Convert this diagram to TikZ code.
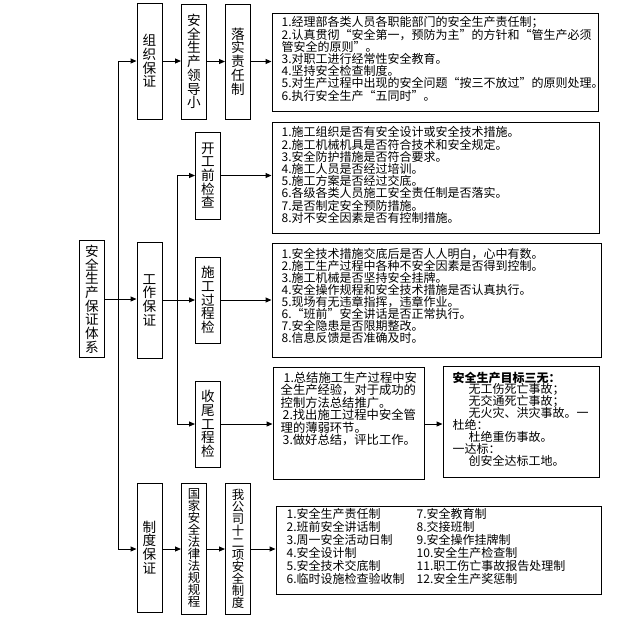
\documentclass[tikz,border=0pt]{standalone}
\usepackage{fontspec}
\setmainfont{Noto Sans CJK SC}
\usetikzlibrary{arrows.meta,positioning,calc}

\newcommand\tightlines{\lineskiplimit=-20pt\relax\lineskip=0pt\relax}
\tikzset{
  vbox/.style={draw, line width=1pt, inner sep=0pt, minimum width=25pt, align=center, font=\fontsize{13.6}{13.7}\selectfont\tightlines},
  vboxs/.style={vbox, font=\fontsize{12.4}{12}\selectfont\tightlines},
  tbox/.style={draw, line width=1pt, inner sep=0pt},
  txt/.style={inner sep=0pt, anchor=north west, align=left, font=\fontsize{12}{12.2}\selectfont\tightlines},
  arr/.style={line width=1pt, -{Triangle[length=6pt,width=5pt]}},
  link/.style={line width=1pt}
}

\begin{document}
\begin{tikzpicture}[x=1pt,y=-1pt]
        \useasboundingbox (0,0) rectangle (643,622);

        % Root
        \node[vbox, minimum height=117pt] (main) at (92,299) {安\\全\\生\\产\\保\\证\\体\\系};

        % Three guarantees
        \node[vbox, minimum height=116pt] (zuzhi) at (149.5,61) {组\\织\\保\\证};
        \node[vbox, minimum height=116pt] (gongzuo) at (149.5,300) {工\\作\\保\\证};
        \node[vbox, minimum height=129pt] (zhidu) at (149.5,547.5) {制\\度\\保\\证};

        % Organisation row
        \node[vbox, minimum height=115pt] (lingdao) at (194,61.5) {安\\全\\生\\产\\领\\导\\小};
        \node[vbox, minimum height=115pt] (luoshi) at (238,61.5) {落\\实\\责\\任\\制};
        \node[tbox, minimum width=326pt, minimum height=98pt] (duty) at (435,62) {};
        \node[txt] (dutytext) at ([shift={(10,4)}]duty.north west) {1.经理部各类人员各职能部门的安全生产责任制；\\2.认真贯彻“安全第一，预防为主”的方针和“管生产必须\\管安全的原则”。\\3.对职工进行经常性安全教育。\\4.坚持安全检查制度。\\5.对生产过程中出现的安全问题“按三不放过”的原则处理。\\6.执行安全生产“五同时”。};

        % Work checks
        \node[vbox, minimum height=87pt] (kaigong) at (208,175.5) {开\\工\\前\\检\\查};
        \node[vbox, minimum height=86pt] (shigong) at (208,300) {施\\工\\过\\程\\检};
        \node[vbox, minimum height=86pt] (shouwei) at (208,424) {收\\尾\\工\\程\\检};

        \node[tbox, minimum width=327pt, minimum height=111pt] (before) at (435.5,177.5) {};
        \node[txt] (beforetext) at ([shift={(10,5)}]before.north west) {1.施工组织是否有安全设计或安全技术措施。\\2.施工机械机具是否符合技术和安全规定。\\3.安全防护措施是否符合要求。\\4.施工人员是否经过培训。\\5.施工方案是否经过交底。\\6.各级各类人员施工安全责任制是否落实。\\7.是否制定安全预防措施。\\8.对不安全因素是否有控制措施。};

        \node[tbox, minimum width=329pt, minimum height=114pt] (during) at (436.5,300) {};
        \node[txt, font=\fontsize{12}{11.9}\selectfont\tightlines] (duringtext) at ([shift={(10,6)}]during.north west) {1.安全技术措施交底后是否人人明白，心中有数。\\2.施工生产过程中各种不安全因素是否得到控制。\\3.施工机械是否坚持安全挂牌。\\4.安全操作规程和安全技术措施是否认真执行。\\5.现场有无违章指挥，违章作业。\\6.“班前”安全讲话是否正常执行。\\7.安全隐患是否限期整改。\\8.信息反馈是否准确及时。};

        \node[tbox, minimum width=151pt, minimum height=112pt] (after) at (348.5,423) {};
        \node[txt, font=\fontsize{12.3}{12.5}\selectfont\tightlines] (aftertext) at ([shift={(8,5)}]after.north west) {\hspace{3pt}1.总结施工生产过程中安\\全生产经验，对于成功的\\控制方法总结推广。\\\hspace{2pt}2.找出施工过程中安全管\\理的薄弱环节。\\\hspace{2pt}3.做好总结，评比工作。};

        \node[tbox, minimum width=156pt, minimum height=111pt] (goal) at (521,421.5) {};
        \node[txt, font=\fontsize{12}{11.9}\selectfont\tightlines] (goaltext) at ([shift={(10,6)}]goal.north west) {\textbf{安全生产目标三无：}\\\hspace{16pt}无工伤死亡事故；\\\hspace{16pt}无交通死亡事故；\\\hspace{16pt}无火灾、洪灾事故。一\\杜绝：\\\hspace{16pt}杜绝重伤事故。\\一达标：\\\hspace{16pt}创安全达标工地。};

        % Rules row
        \node[vboxs, minimum height=131pt] (guojia) at (194,548.5) {国\\家\\安\\全\\法\\律\\法\\规\\规\\程};
        \node[vboxs, minimum height=131pt] (gongsi) at (238,548.5) {我\\公\\司\\十\\二\\项\\安\\全\\制\\度};
        \node[tbox, minimum width=325pt, minimum height=88pt] (rules) at (438.5,550) {};
        \node[txt, font=\fontsize{12}{13}\selectfont\tightlines] (rulestext) at ([shift={(11,3)}]rules.north west) {\makebox[130pt][l]{1.安全生产责任制}7.安全教育制\\\makebox[130pt][l]{2.班前安全讲话制}8.交接班制\\\makebox[130pt][l]{3.周一安全活动日制}9.安全操作挂牌制\\\makebox[130pt][l]{4.安全设计制}10.安全生产检查制\\\makebox[130pt][l]{5.安全技术交底制}11.职工伤亡事故报告处理制\\\makebox[130pt][l]{6.临时设施检查验收制}12.安全生产奖惩制};

        % Trunk lines
        \coordinate (trunktop) at (118,61);
        \coordinate (trunkbot) at (118,549);
        \coordinate (checktop) at (177,175.5);
        \coordinate (checkbot) at (177,424);
        \draw[link] (trunktop) -- (trunkbot);
        \draw[link] (checktop) -- (checkbot);

        % Arrows
        \draw[arr] (main.east) -- (main.east -| gongzuo.west);
        \draw[arr] (trunktop) -- (trunktop -| zuzhi.west);
        \draw[arr] (trunkbot) -- (trunkbot -| zhidu.west);
        \draw[arr] (zuzhi.east) -- (zuzhi.east -| lingdao.west);
        \draw[arr] (lingdao.east) -- (lingdao.east -| luoshi.west);
        \draw[arr] (luoshi.east) -- (luoshi.east -| duty.west);
        \draw[arr] (checktop) -- (checktop -| kaigong.west);
        \draw[arr] (gongzuo.east) -- (gongzuo.east -| shigong.west);
        \draw[arr] (checkbot) -- (checkbot -| shouwei.west);
        \draw[arr] (kaigong.east) -- (kaigong.east -| before.west);
        \draw[arr] (shigong.east) -- (shigong.east -| during.west);
        \draw[arr] (shouwei.east) -- (shouwei.east -| after.west);
        \draw[arr] (shouwei.east -| after.east) -- (shouwei.east -| goal.west);
        \draw[arr] (zhidu.east |- trunkbot) -- (trunkbot -| guojia.west);
        \draw[arr] (guojia.east |- trunkbot) -- (trunkbot -| gongsi.west);
        \draw[arr] (gongsi.east |- trunkbot) -- (trunkbot -| rules.west);
    \end{tikzpicture}
\end{document}
